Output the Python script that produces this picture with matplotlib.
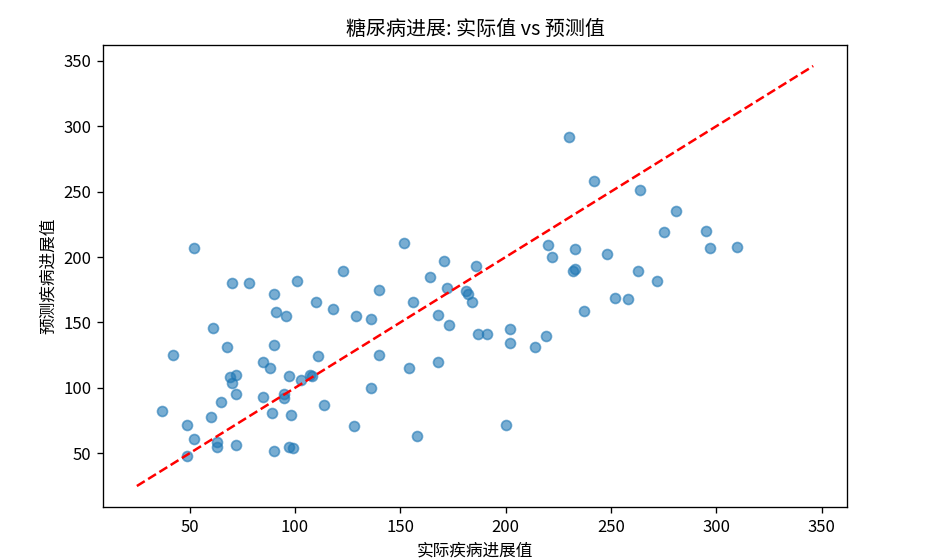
import numpy as np
import matplotlib
matplotlib.use('Agg')
import matplotlib.pyplot as plt

plt.rcParams['font.family'] = ['Noto Sans CJK SC', 'DejaVu Sans']
plt.rcParams['axes.unicode_minus'] = False

# 实际值 / 预测值
y_test = [37, 42, 49, 49, 52, 52, 60, 61, 63, 63, 65, 68, 69, 70, 70, 72, 72, 72,
          78, 85, 85, 88, 89, 90, 90, 90, 91, 95, 95, 96, 97, 97, 98, 99, 101, 103,
          107, 108, 110, 111, 114, 118, 123, 128, 129, 136, 136, 140, 140, 152, 154,
          156, 158, 164, 168, 168, 171, 172, 173, 181, 182, 184, 186, 187, 191, 200,
          202, 202, 214, 219, 220, 222, 230, 232, 233, 233, 237, 242, 248, 252, 258,
          263, 264, 272, 275, 281, 295, 297, 310]
y_pred = [82, 125, 72, 48, 207, 61, 78, 146, 59, 55, 89, 131, 108, 104, 180, 110, 95, 56,
          180, 120, 93, 115, 81, 172, 133, 52, 158, 92, 95, 155, 109, 55, 79, 54, 182, 106,
          110, 109, 166, 124, 87, 160, 189, 71, 155, 100, 153, 175, 125, 211, 115,
          166, 63, 185, 156, 120, 197, 176, 148, 174, 172, 166, 193, 141, 141, 72,
          145, 134, 131, 140, 209, 200, 292, 189, 191, 206, 159, 258, 202, 169, 168,
          189, 251, 182, 219, 235, 220, 207, 208]
y_min, y_max = 25, 346

fig = plt.figure(figsize=(7.75, 4.6667), dpi=120)
ax = fig.add_axes([0.1108, 0.0946, 0.8, 0.825])
ax.scatter(y_test, y_pred, alpha=0.6)
ax.plot([y_min, y_max], [y_min, y_max], 'r--', lw=1.5)
ax.set_xlabel('实际疾病进展值')
ax.set_ylabel('预测疾病进展值')
ax.set_title('糖尿病进展: 实际值 vs 预测值')

fig.savefig('out.png', dpi=120)
